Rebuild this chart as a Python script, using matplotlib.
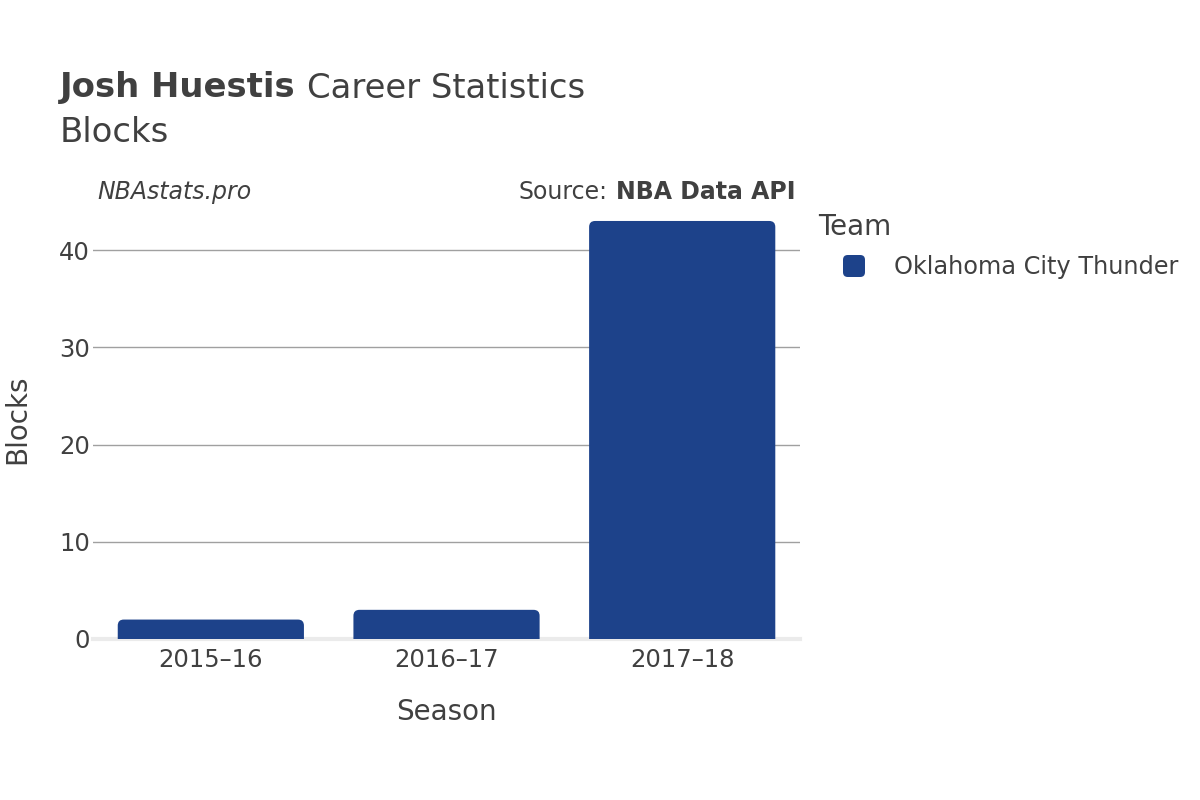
import matplotlib.pyplot as plt
from matplotlib.patches import FancyBboxPatch

seasons = ["2015–16", "2016–17", "2017–18"]
blocks = [2, 3, 43]
team = "Oklahoma City Thunder"
bar_color = "#1d428a"
text_color = "#404040"

fig = plt.figure(figsize=(12, 8), dpi=100)
ax = fig.add_axes([0.0775, 0.20125, 0.5892, 0.55])

ymax = 45.26
ax.set_xlim(-0.5, 2.5)
ax.set_ylim(0, ymax)

# px per data unit, for round corners
px_x = 707 / 3.0
px_y = 440 / ymax
r_px = 6
width = 0.79
for i, v in enumerate(blocks):
    patch = FancyBboxPatch((i - width / 2, -1), width, v + 1,
                           boxstyle=f"round,pad=0,rounding_size={r_px / px_x}",
                           mutation_aspect=px_x / px_y,
                           facecolor=bar_color, edgecolor="none", zorder=3)
    patch.set_clip_on(True)
    ax.add_patch(patch)

ax.set_yticks([0, 10, 20, 30, 40])
ax.set_xticks(range(len(seasons)))
ax.set_xticklabels(seasons)
ax.grid(axis="y", color="#a0a0a0", linewidth=1, zorder=0)
ax.axhline(0, color="#ebebeb", linewidth=3, zorder=2, clip_on=False)
for s in ax.spines.values():
    s.set_visible(False)
ax.tick_params(length=0, labelsize=17.5, colors=text_color)
ax.tick_params(axis="x", pad=6.5)
ax.tick_params(axis="y", pad=2)
ax.set_xlabel("Season", fontsize=20, color=text_color, va="center")
ax.set_ylabel("Blocks", fontsize=20, color=text_color, va="center")
ax.xaxis.set_label_coords(0.5, (639 - 712) / 440)
ax.yaxis.set_label_coords((17 - 93) / 707, 0.5)

# titles
ty = 1 - 88 / 800
t = fig.text(60 / 1200, ty, "Josh Huestis", fontsize=24.4, color=text_color,
             va="center", ha="left", fontweight="bold")
fig.canvas.draw()
bb = t.get_window_extent()
fig.text((bb.x1 + 11) / 1200, ty, "Career Statistics", fontsize=24.4,
         color=text_color, va="center", ha="left")
fig.text(60 / 1200, 1 - 132 / 800, "Blocks", fontsize=24.4, color=text_color,
         va="center", ha="left")

sy = 1 - 192 / 800
fig.text(97 / 1200, sy, "NBAstats.pro", fontsize=17, style="italic",
         color=text_color, va="center", ha="left")
src = fig.text(796 / 1200, sy, "NBA Data API", fontsize=17, fontweight="bold",
               color=text_color, va="center", ha="right")
fig.canvas.draw()
sb = src.get_window_extent()
fig.text((sb.x0 - 9) / 1200, sy, "Source:", fontsize=17,
         color=text_color, va="center", ha="right")

# legend
fig.text(818 / 1200, 1 - 227 / 800, "Team", fontsize=20, color=text_color,
         va="center", ha="left")
fig.patches.append(FancyBboxPatch((843 / 1200, 1 - 277 / 800), 22 / 1200, 22 / 800,
                                  boxstyle="round,pad=0,rounding_size=0.004",
                                  mutation_aspect=1.5,
                                  transform=fig.transFigure, facecolor=bar_color,
                                  edgecolor="none", figure=fig))
fig.text(894 / 1200, 1 - 267 / 800, team, fontsize=17.3, color=text_color,
         va="center", ha="left")

fig.savefig("out.png", dpi=100, facecolor="white")
